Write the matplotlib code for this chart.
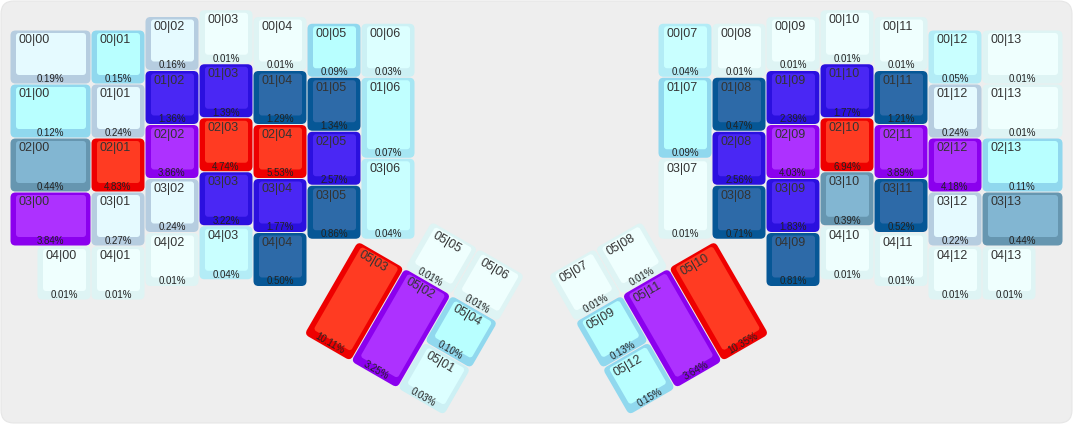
import matplotlib
matplotlib.use('Agg')
import matplotlib.pyplot as plt
from matplotlib.patches import FancyBboxPatch
from matplotlib.transforms import Affine2D

# ---------------- data ----------------
# left half, by column (top to bottom)
left_col_labels = [
    ['00|00', '01|00', '02|00', '03|00', '04|00'],
    ['00|01', '01|01', '02|01', '03|01', '04|01'],
    ['00|02', '01|02', '02|02', '03|02', '04|02'],
    ['00|03', '01|03', '02|03', '03|03', '04|03'],
    ['00|04', '01|04', '02|04', '03|04', '04|04'],
    ['00|05', '01|05', '02|05', '03|05'],
    ['00|06', '01|06', '03|06'],
]
left_col_values = [
    [0.19, 0.12, 0.44, 3.84, 0.01],
    [0.15, 0.24, 4.83, 0.27, 0.01],
    [0.16, 1.36, 3.86, 0.24, 0.01],
    [0.01, 1.39, 4.74, 3.22, 0.04],
    [0.01, 1.29, 5.53, 1.77, 0.50],
    [0.09, 1.34, 2.57, 0.86],
    [0.03, 0.07, 0.04],
]
# right half, by column (mirrors left column 6..0)
right_col_labels = [
    ['00|07', '01|07', '03|07'],
    ['00|08', '01|08', '02|08', '03|08'],
    ['00|09', '01|09', '02|09', '03|09', '04|09'],
    ['00|10', '01|10', '02|10', '03|10', '04|10'],
    ['00|11', '01|11', '02|11', '03|11', '04|11'],
    ['00|12', '01|12', '02|12', '03|12', '04|12'],
    ['00|13', '01|13', '02|13', '03|13', '04|13'],
]
right_col_values = [
    [0.04, 0.09, 0.01],
    [0.01, 0.47, 2.56, 0.71],
    [0.01, 2.39, 4.03, 1.83, 0.81],
    [0.01, 1.77, 6.94, 0.39, 0.01],
    [0.01, 1.21, 3.89, 0.52, 0.01],
    [0.05, 0.24, 4.18, 0.22, 0.01],
    [0.01, 0.01, 0.11, 0.44, 0.01],
]
left_thumb_labels = ['05|05', '05|06', '05|03', '05|02', '05|04', '05|01']
left_thumb_values = [0.01, 0.01, 10.11, 3.25, 0.10, 0.03]
right_thumb_labels = ['05|08', '05|07', '05|10', '05|11', '05|09', '05|12']
right_thumb_values = [0.01, 0.01, 10.35, 3.64, 0.13, 0.15]

# ---------------- layout (key units) ----------------
PX = 54.0
TOTAL_W = 19.5
col_x = [0, 1.5, 2.5, 3.5, 4.5, 5.5, 6.5]
col_stagger = [0, 0, -0.25, -0.375, -0.25, -0.125, -0.125]
thumb_frame = [(1, 0, 1, 1), (2, 0, 1, 1), (0, 1, 1, 2), (1, 1, 1, 2), (2, 1, 1, 1), (2, 2, 1, 1)]
thumb_origin = (6.94, 3.04)
thumb_angle = 30


def column_geometry(c):
    """Return list of (x, y, w, h) for left column c."""
    s = col_stagger[c]
    x = col_x[c]
    if c == 0:
        return [(x, r + s, 1.5, 1) for r in range(4)] + [(0.5, 4 + s, 1, 1)]
    if c == 6:
        return [(x, s, 1, 1), (x, 1 + s, 1, 1.5), (x, 2.5 + s, 1, 1.5)]
    n = len(left_col_labels[c])
    return [(x, r + s, 1, 1) for r in range(n)]


bins = [
    (0.015, '#effffe', '#def4f4'),
    (0.035, '#dcffff', '#ccf0f4'),
    (0.06, '#c9ffff', '#b3ecf6'),
    (0.08, '#c0ffff', '#a6e6f3'),
    (0.155, '#b8ffff', '#90d8ee'),
    (0.30, '#e5faff', '#b6cde0'),
    (0.45, '#82b6d2', '#6696b0'),
    (1.35, '#2d6aa8', '#065796'),
    (3.23, '#4a27f4', '#2b10df'),
    (4.50, '#ad31ff', '#8b00ee'),
    (1e9, '#ff3b22', '#ee0000'),
]


def key_colors(v):
    for lim, face, edge in bins:
        if v <= lim:
            return face, edge


fig = plt.figure(figsize=(10.73, 4.24), dpi=100)
fig.patch.set_facecolor('white')
ax = fig.add_axes([0, 0, 1, 1])
ax.set_xlim(-10 / PX, 1063 / PX)
ax.set_ylim(394 / PX, -30 / PX)
ax.axis('off')

# background panel
bg = FancyBboxPatch((1 / 1073, 1 / 424), 1071 / 1073, 422 / 424,
                    boxstyle='round,pad=0,rounding_size=0.012',
                    transform=ax.transAxes, facecolor='#eeeeee',
                    edgecolor='#e6e6e6', lw=0.8, zorder=0, mutation_aspect=1073 / 424)
ax.add_patch(bg)

g = 0.5 / PX
inL, inR, inT, inB = 6 / PX, 5 / PX, 3 / PX, 9 / PX


def draw_key(x, y, w, h, label, value, rot=0, origin=(0, 0)):
    face, edge = key_colors(value)
    tr = Affine2D().rotate_deg_around(origin[0], origin[1], rot) + ax.transData
    outer = FancyBboxPatch((x + g, y + g), w - 2 * g, h - 2 * g,
                           boxstyle='round,pad=0,rounding_size=%f' % (5 / PX),
                           facecolor=edge, edgecolor='none', zorder=2)
    inner = FancyBboxPatch((x + inL, y + inT), w - inL - inR, h - inT - inB,
                           boxstyle='round,pad=0,rounding_size=%f' % (3 / PX),
                           facecolor=face, edgecolor='none', zorder=3)
    outer.set_transform(tr)
    inner.set_transform(tr)
    ax.add_patch(outer)
    ax.add_patch(inner)
    rot_pt = Affine2D().rotate_deg_around(origin[0], origin[1], rot)
    lx, ly = rot_pt.transform((x + 8.5 / PX, y + 4.5 / PX))
    px_, py_ = rot_pt.transform((x + w / 2, y + h - 2.2 / PX))
    ax.text(lx, ly, label, ha='left', va='top', fontsize=9, color='#333333',
            family='Liberation Sans', rotation=-rot, rotation_mode='anchor', zorder=4)
    ax.text(px_, py_, '%.2f%%' % value, ha='center', va='baseline', fontsize=7,
            color='#222222', family='Liberation Sans', rotation=-rot,
            rotation_mode='anchor', zorder=4)


# left main
for c in range(7):
    for (x, y, w, h), lab, val in zip(column_geometry(c), left_col_labels[c], left_col_values[c]):
        draw_key(x, y, w, h, lab, val)

# right main (mirror)
for i in range(7):
    c = 6 - i
    for (x, y, w, h), lab, val in zip(column_geometry(c), right_col_labels[i], right_col_values[i]):
        draw_key(TOTAL_W - x - w, y, w, h, lab, val)

# thumbs
ox, oy = thumb_origin
for (fx, fy, w, h), lab, val in zip(thumb_frame, left_thumb_labels, left_thumb_values):
    draw_key(ox + fx, oy + fy, w, h, lab, val, rot=thumb_angle, origin=(ox, oy))
rox = TOTAL_W - ox
for (fx, fy, w, h), lab, val in zip(thumb_frame, right_thumb_labels, right_thumb_values):
    draw_key(rox - fx - w, oy + fy, w, h, lab, val, rot=-thumb_angle, origin=(rox, oy))

fig.savefig('out.png', dpi=100, facecolor='white')
